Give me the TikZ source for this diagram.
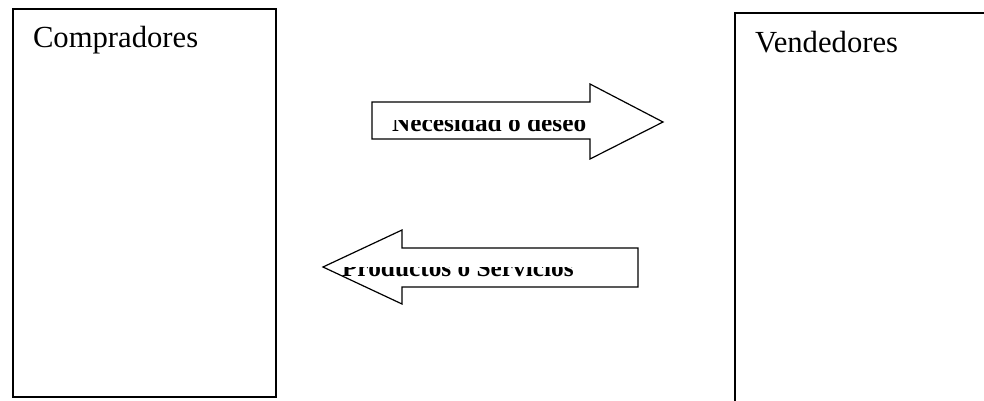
\documentclass[tikz,border=0pt]{standalone}
\usepackage{fontspec}
\setmainfont{Liberation Serif}
\begin{document}
\begin{tikzpicture}[x=0.75pt, y=-0.75pt,
  every node/.style={inner sep=0pt, outer sep=0pt},
  side/.style={draw, line width=1pt, anchor=north west},
  title/.style={font=\fontsize{23}{27}\selectfont, anchor=base west},
  flow/.style={draw, line width=0.9pt, line join=miter},
  flowtext/.style={font=\bfseries\fontsize{19}{23}\selectfont, anchor=base west}
]
  \clip (0,0) rectangle (984,400);
  \fill[white] (0,0) rectangle (984,400);

  % market sides
  \node[side, minimum width=197.25pt, minimum height=291pt] (compradores) at (13,9) {};
  \node[side, minimum width=198.75pt, minimum height=305.25pt] (vendedores) at (735,13) {};
  \node[title] (compradoresText) at (33,47) {Compradores};
  \node[title] (vendedoresText) at (755,52) {Vendedores};

  % arrows
  \draw[flow] (372,102) -- (590,102) -- (590,84) -- (663,122) -- (590,159) -- (590,139) -- (372,139) -- cycle;
  \draw[flow] (638,248) -- (402,248) -- (402,230) -- (323,267) -- (402,304) -- (402,287) -- (638,287) -- cycle;

  \begin{scope}
    \clip (372,120) rectangle (588,138);
    \node[flowtext] (necesidad) at (392,131) {Necesidad o deseo};
  \end{scope}
  \begin{scope}
    \clip (330,267) rectangle (636,286);
    \node[flowtext] (productos) at (342,276) {Productos o Servicios};
  \end{scope}
\end{tikzpicture}
\end{document}
